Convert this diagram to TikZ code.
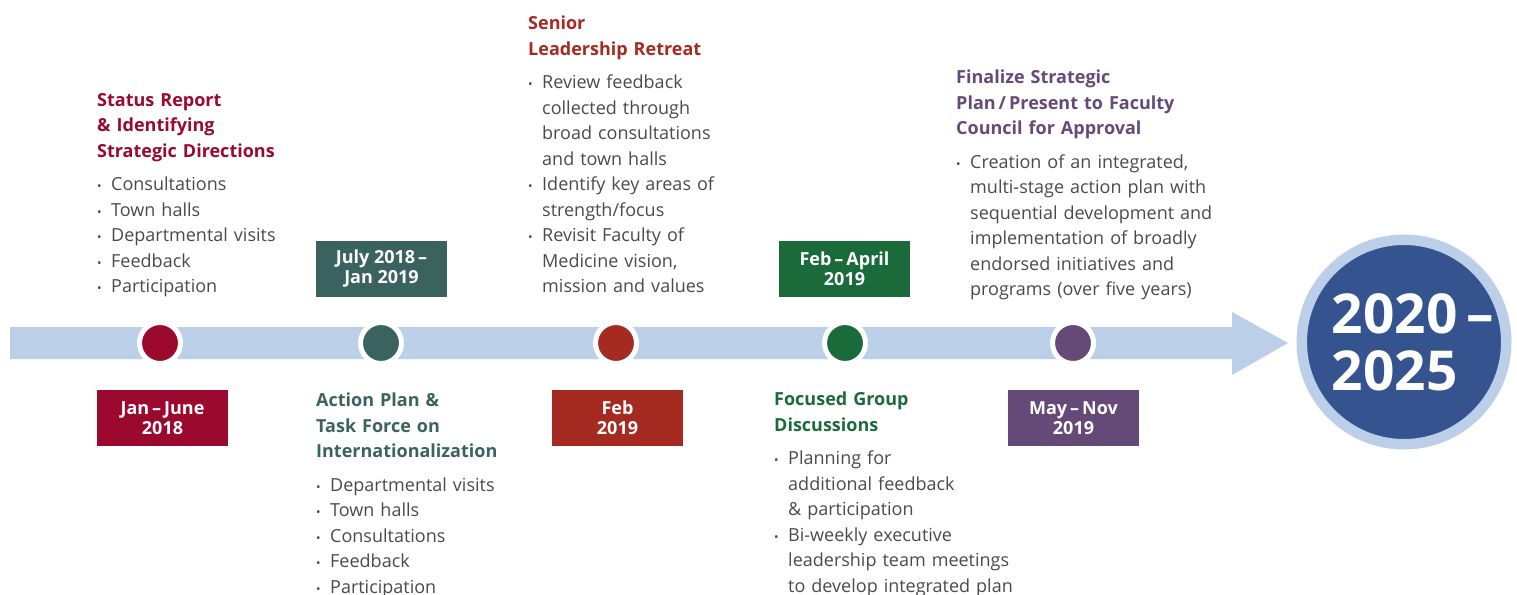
\documentclass[tikz,border=0pt]{standalone}
\usepackage{fontspec}
\setmainfont{Open Sans}
\usetikzlibrary{positioning}

\definecolor{tlRed}{HTML}{9B0A2E}
\definecolor{tlTeal}{HTML}{3A6360}
\definecolor{tlRust}{HTML}{A52A22}
\definecolor{tlGreen}{HTML}{1B6B3A}
\definecolor{tlPurple}{HTML}{654A78}
\definecolor{tlBand}{HTML}{BBCFE9}
\definecolor{tlNavy}{HTML}{35548F}
\definecolor{tlText}{HTML}{4A4A4A}

\newcommand{\tlhead}[2]{{\color{#1}\bfseries #2\par}\vspace{8pt}}
\newcommand{\bitem}[1]{\par\noindent\hangindent=14pt\hangafter=1%
  \makebox[14pt][l]{\fontsize{12}{12}\selectfont\textbullet}{\let\\\newline #1}\par}

\tikzset{
  datebox/.style={fill=#1, text=white, inner sep=0, minimum width=131, minimum height=56,
    align=center, font=\bfseries\fontsize{18}{20}\selectfont},
  dot/.style={circle, fill=#1, draw=white, line width=5, minimum size=41, inner sep=0},
  infotext/.style={anchor=north west, inner sep=0, text width=300, align=left,
    text=tlText, font=\fontsize{18}{25.5}\selectfont},
}

\begin{document}
\begin{tikzpicture}[x=1pt, y=-1pt]
    \useasboundingbox (0,0) rectangle (1517,594);
    % timeline band
    \fill [tlBand] (10,327) -- (1232,327) -- (1232,312) -- (1288,343)
        -- (1232,375) -- (1232,359) -- (10,359) -- cycle;
    \node [circle, fill = tlNavy, draw = tlBand, line width = 10.5, minimum size = 204.5,
        inner sep = 0] (goal) at (1404,342) {};
    \node [text = white, align = left, inner sep = 0,
        font = \bfseries\fontsize{55}{57}\selectfont] (goaltext) at (1413,342) {2020\,--\\2025};

    % milestones
    \node [dot = tlRed] (dotA) at (160,343) {};
    \node [dot = tlTeal] (dotB) at (381,343) {};
    \node [dot = tlRust] (dotC) at (616,343) {};
    \node [dot = tlGreen] (dotD) at (845,343) {};
    \node [dot = tlPurple] (dotE) at (1073,343) {};

    \node [datebox = tlRed] (dateA) at (162.5,418) {Jan\,--\,June\\2018};
    \node [datebox = tlTeal] (dateB) at (381.5,268.5) {July 2018\,--\\Jan 2019};
    \node [datebox = tlRust] (dateC) at (617.5,418) {Feb\\2019};
    \node [datebox = tlGreen] (dateD) at (844.5,268.5) {Feb\,--\,April\\2019};
    \node [datebox = tlPurple] (dateE) at (1073.5,418) {May\,--\,Nov\\2019};

    % descriptions
    \node [infotext] (infoA) at (97,93) {\tlhead{tlRed}{Status Report\\\& Identifying\\Strategic Directions}%
        \bitem{Consultations}\bitem{Town halls}\bitem{Departmental visits}%
        \bitem{Feedback}\bitem{Participation}};
    \node [infotext] (infoB) at (316,393) {\tlhead{tlTeal}{Action Plan \&\\Task Force on\\Internationalization}%
        \bitem{Departmental visits}\bitem{Town halls}\bitem{Consultations}%
        \bitem{Feedback}\bitem{Participation}};
    \node [infotext] (infoC) at (528,16) {\tlhead{tlRust}{Senior\\Leadership Retreat}%
        \bitem{Review feedback\\collected through\\broad consultations\\and town halls}%
        \bitem{Identify key areas of\\strength/focus}%
        \bitem{Revisit Faculty of\\Medicine vision,\\mission and values}};
    \node [infotext] (infoD) at (774,392) {\tlhead{tlGreen}{Focused Group\\Discussions}%
        \bitem{Planning for\\additional feedback\\\& participation}%
        \bitem{Bi-weekly executive\\leadership team meetings\\to develop integrated plan}};
    \node [infotext] (infoE) at (956,70) {\tlhead{tlPurple}{Finalize Strategic\\Plan\,/\,Present to Faculty\\Council for Approval}%
        \bitem{Creation of an integrated,\\multi-stage action plan with\\sequential development and\\implementation of broadly\\endorsed initiatives and\\programs (over five years)}};
\end{tikzpicture}
\end{document}
